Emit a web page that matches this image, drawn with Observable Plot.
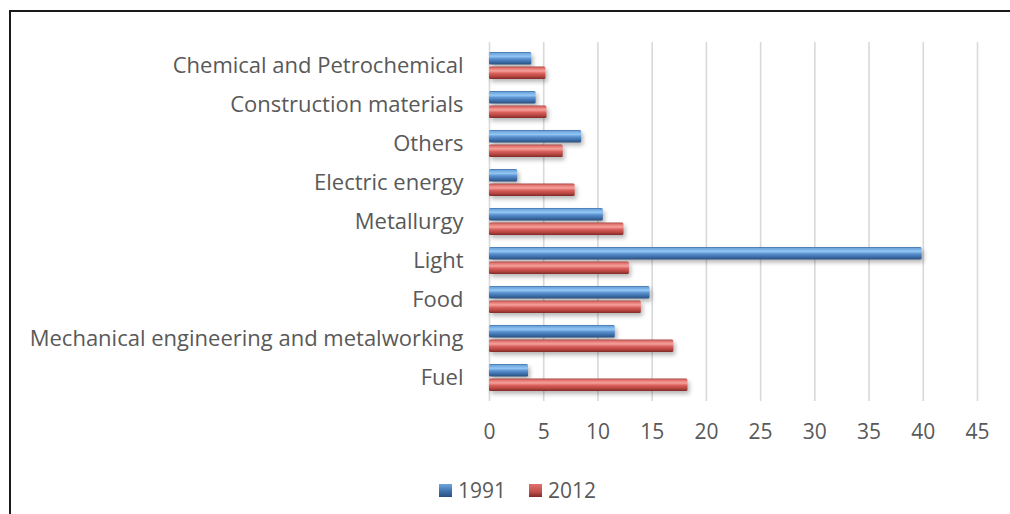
<!DOCTYPE html>
<html>
<head>
<meta charset="utf-8">
<script src="https://cdn.jsdelivr.net/npm/d3@7"></script>
<script src="https://cdn.jsdelivr.net/npm/@observablehq/plot@0.6"></script>
<style>
  html, body { margin: 0; padding: 0; background: #fff; }
  #wrap { position: relative; width: 1010px; height: 514px; overflow: hidden; background: #fff; }
  #frame { position: absolute; left: 9px; top: 10px; width: 1100px; height: 600px; border-top: 2px solid #1a1a1a; border-left: 2px solid #1a1a1a; }
  #chart { position: absolute; left: 0; top: 0; }
  #legend { position: absolute; top: 476px; left: 0; width: 1010px; text-align: left; font-family: "Open Sans", Lato, sans-serif; font-size: 21px; color: #595959; }
  .item { position: absolute; top: 0; display: flex; align-items: center; }
  .sw { width: 13px; height: 13px; margin-right: 6px; }
</style>
</head>
<body>
<div id="wrap">
  <div id="frame"></div>
  <div id="chart"></div>
  <div id="legend"></div>
</div>
<script>
const categories = ["Chemical and Petrochemical", "Construction materials", "Others", "Electric energy", "Metallurgy", "Light", "Food", "Mechanical engineering and metalworking", "Fuel"];
const values1991 = [3.9, 4.3, 8.5, 2.6, 10.5, 39.9, 14.8, 11.6, 3.6];
const values2012 = [5.2, 5.3, 6.8, 7.9, 12.4, 12.9, 14.0, 17.0, 18.3];
const xTicks = [0, 5, 10, 15, 20, 25, 30, 35, 40, 45];
const seriesNames = ["1991", "2012"];

const d1991 = categories.map((c, i) => ({category: c, value: values1991[i]}));
const d2012 = categories.map((c, i) => ({category: c, value: values2012[i]}));

const font = "'Open Sans', Lato, sans-serif";
const textColor = "#595959";

const bandH = 39.9 * 0.7;
const half = bandH / 2;

const chart = Plot.plot({
  width: 1010,
  height: 460,
  marginLeft: 489,
  marginRight: 33,
  marginTop: 42,
  marginBottom: 59,
  style: {fontFamily: font, fontSize: "22px", color: textColor, background: "transparent"},
  x: {domain: [0, 45], ticks: xTicks, label: null},
  y: {domain: categories, paddingInner: 0.3, paddingOuter: 0.15, label: null},
  marks: [
    Plot.gridX(xTicks, {stroke: "#d9d9d9", strokeOpacity: 1, strokeWidth: 1.6}),
    Plot.axisX({ticks: xTicks, tickSize: 0, tickPadding: 23, fill: textColor, fontSize: 21, label: null}),
    Plot.axisY({tickSize: 0, tickPadding: 26, fill: textColor, fontSize: 22, label: null}),
    Plot.barX(d1991, {x: "value", y: "category", fill: "url(#gBlue)", insetBottom: half + 0.6, rx: 1.5}),
    Plot.barX(d2012, {x: "value", y: "category", fill: "url(#gRed)", insetTop: half + 0.6, rx: 1.5})
  ]
});

const defs = document.createElementNS("http://www.w3.org/2000/svg", "defs");
defs.innerHTML = `
  <linearGradient id="gBlue" x1="0" y1="0" x2="0" y2="1" gradientUnits="objectBoundingBox">
    <stop offset="0" stop-color="#3f6fa6"/>
    <stop offset="0.12" stop-color="#6fa7de"/>
    <stop offset="0.35" stop-color="#93c6f4"/>
    <stop offset="0.55" stop-color="#5a91cf"/>
    <stop offset="0.8" stop-color="#3c6da7"/>
    <stop offset="1" stop-color="#2a4f80"/>
  </linearGradient>
  <linearGradient id="gRed" x1="0" y1="0" x2="0" y2="1" gradientUnits="objectBoundingBox">
    <stop offset="0" stop-color="#a94643"/>
    <stop offset="0.12" stop-color="#e0716d"/>
    <stop offset="0.35" stop-color="#f6a19c"/>
    <stop offset="0.55" stop-color="#d9605c"/>
    <stop offset="0.8" stop-color="#b4443f"/>
    <stop offset="1" stop-color="#7e2a27"/>
  </linearGradient>`;
chart.insertBefore(defs, chart.firstChild);
chart.querySelectorAll('g[aria-label="bar"]').forEach(g => {
  g.style.filter = "drop-shadow(2px 3px 2px rgba(0,0,0,0.28))";
});
document.getElementById("chart").appendChild(chart);

// legend
const legend = document.getElementById("legend");
const legendPos = [439, 529];
const legendGrad = [
  "linear-gradient(#6fa7de, #3d6ea8 60%, #2a4f80)",
  "linear-gradient(#e0716d, #c0504d 60%, #7e2a27)"
];
seriesNames.forEach((name, i) => {
  const item = document.createElement("div");
  item.className = "item";
  item.style.left = legendPos[i] + "px";
  const sw = document.createElement("div");
  sw.className = "sw";
  sw.style.background = legendGrad[i];
  const t = document.createElement("span");
  t.textContent = name;
  item.appendChild(sw);
  item.appendChild(t);
  legend.appendChild(item);
});
</script>
</body>
</html>
